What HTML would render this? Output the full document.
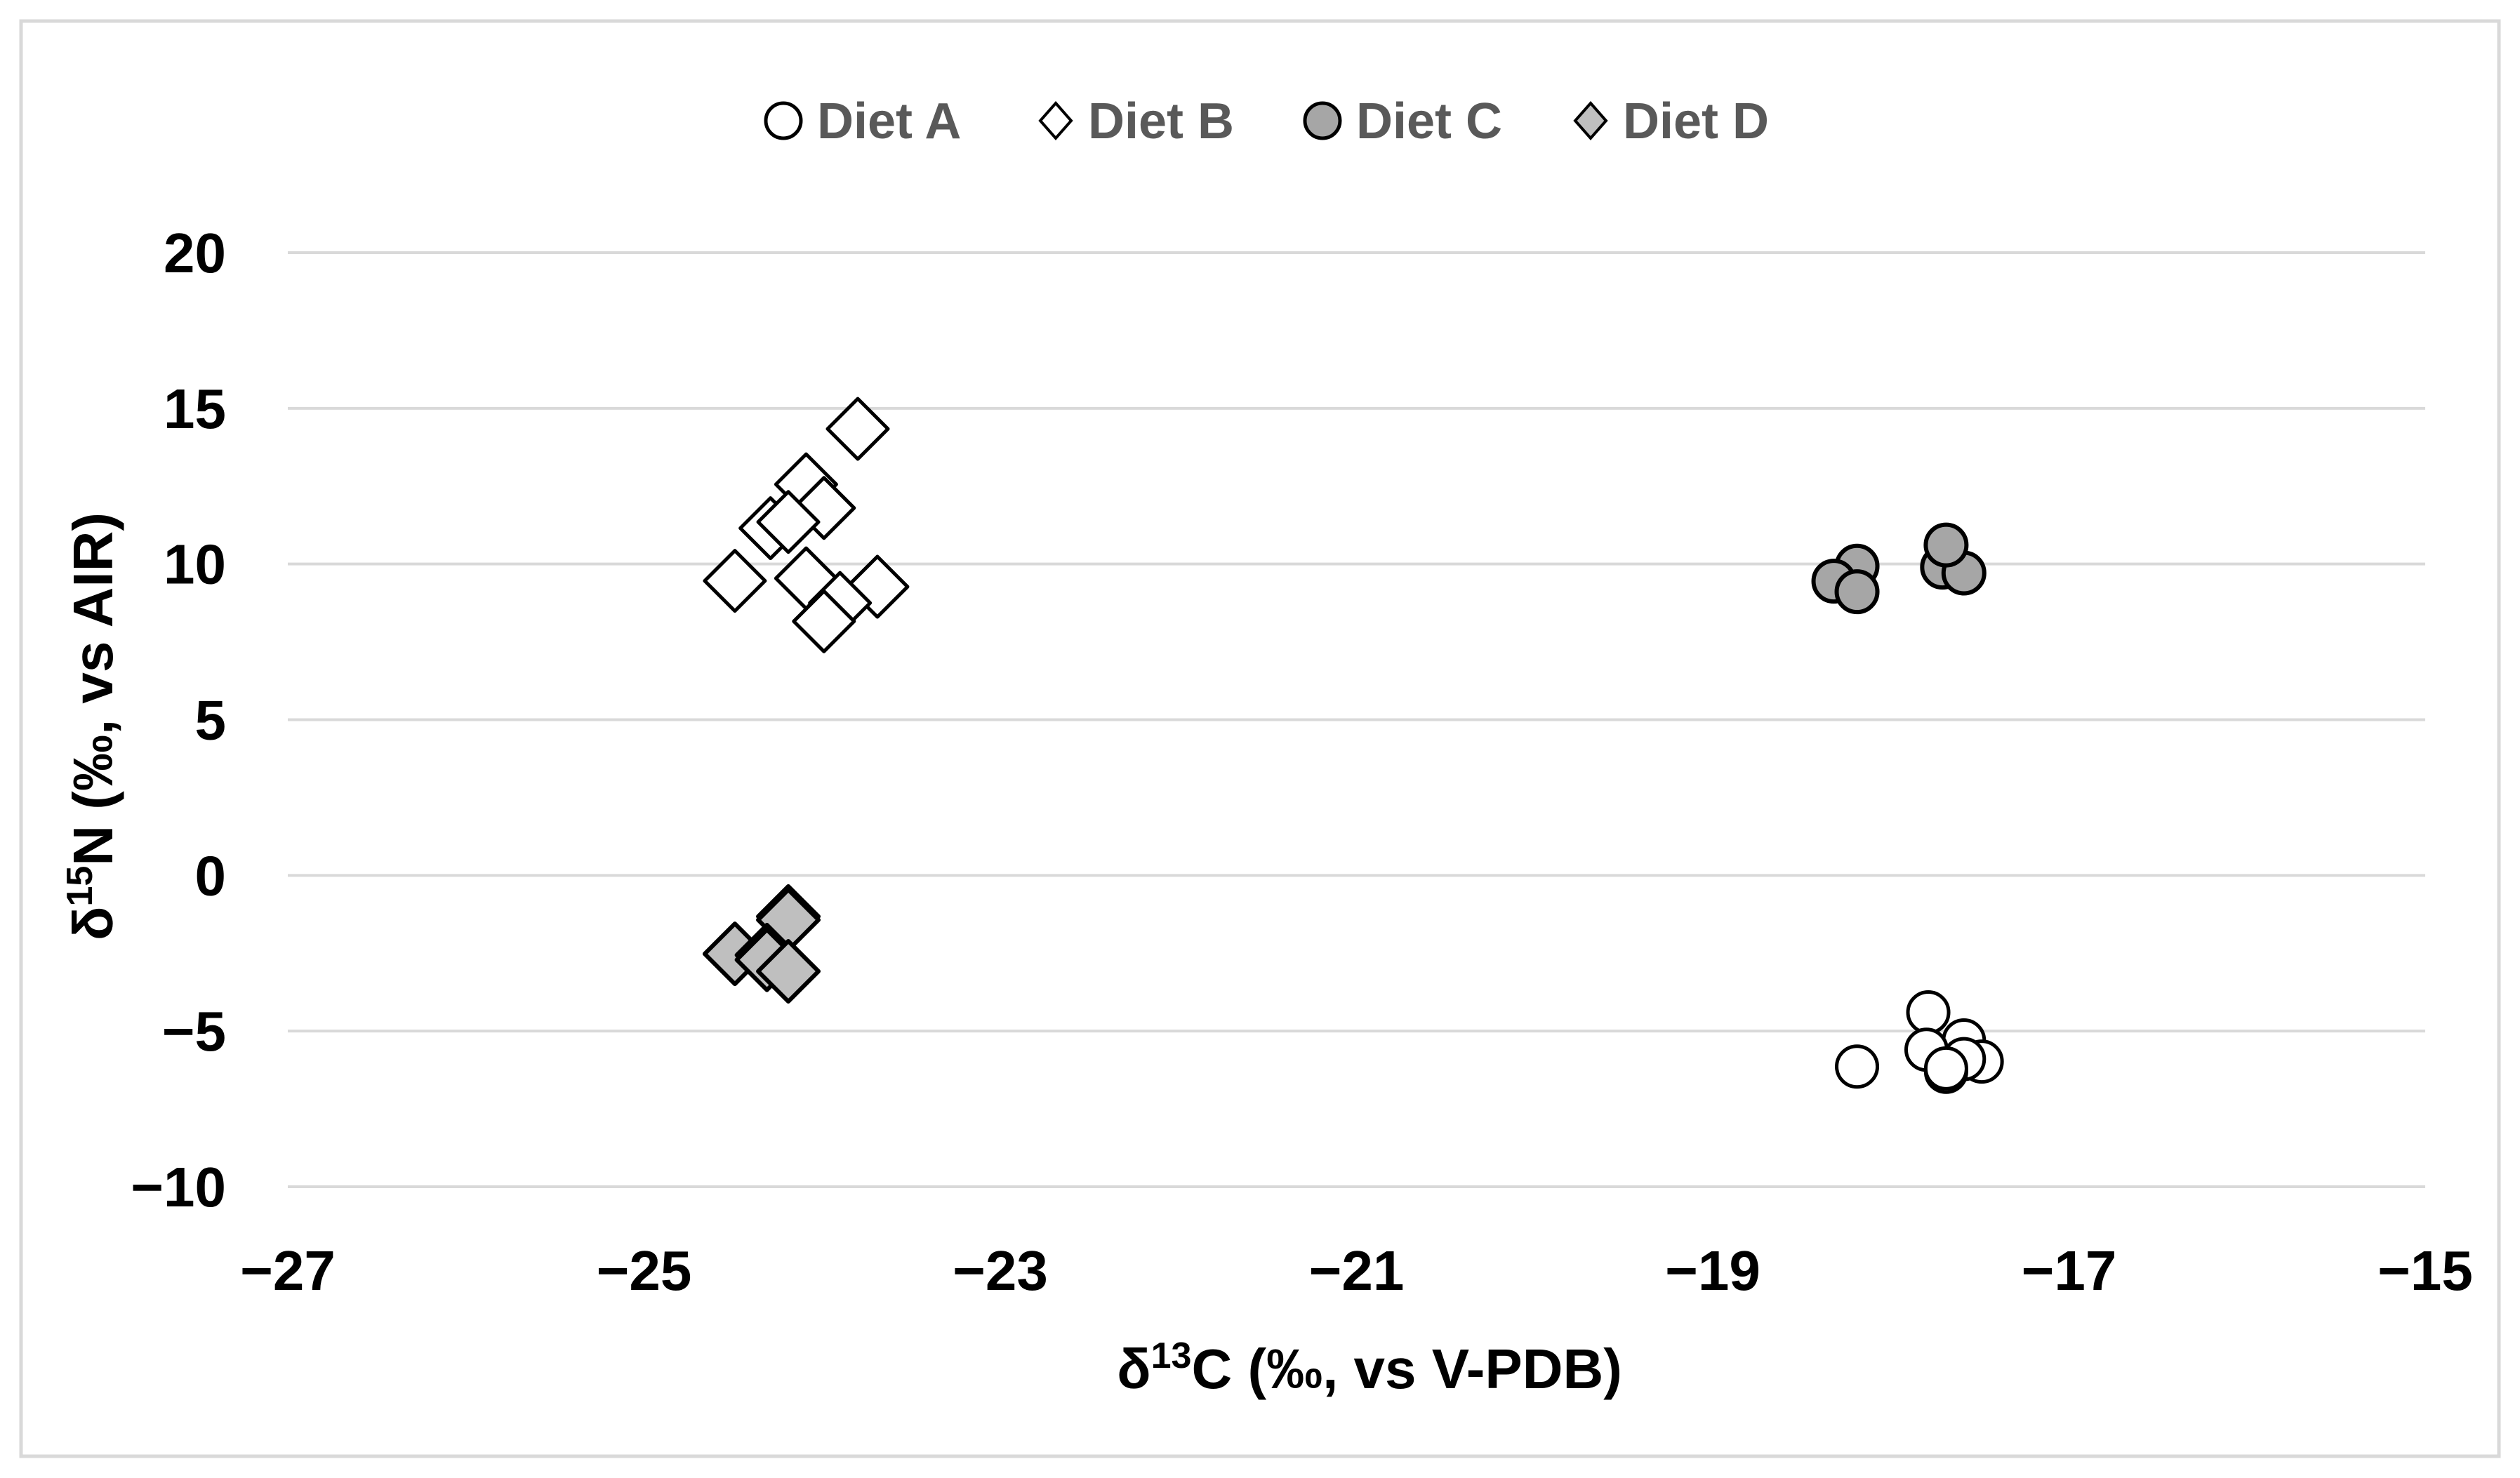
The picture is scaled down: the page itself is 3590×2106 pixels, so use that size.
<!DOCTYPE html>
<html><head><meta charset="utf-8"><style>
html,body{margin:0;padding:0;background:#fff;}
svg{display:block;font-family:"Liberation Sans",sans-serif;}
</style></head><body>
<svg id="chart" width="3590" height="2106" viewBox="0 0 3590 2106">
<rect x="30" y="30" width="3530" height="2045" fill="#fff" stroke="#d9d9d9" stroke-width="5"/>
<g id="grid"></g>
<g id="yticks"></g>
<g id="xticks"></g>
<g id="marks"></g>
<g id="legend">
  <circle cx="1116" cy="172" r="25" fill="#fff" stroke="#000" stroke-width="5"/>
  <text x="1164" y="197" font-size="72" font-weight="bold" fill="#595959">Diet A</text>
  <path d="M1504 147 L1526 172 L1504 197 L1482 172 Z" fill="#fff" stroke="#000" stroke-width="4"/>
  <text x="1550" y="197" font-size="72" font-weight="bold" fill="#595959">Diet B</text>
  <circle cx="1884" cy="172" r="25" fill="#a6a6a6" stroke="#000" stroke-width="5"/>
  <text x="1932" y="197" font-size="72" font-weight="bold" fill="#595959">Diet C</text>
  <path d="M2266 147 L2288 172 L2266 197 L2244 172 Z" fill="#bfbfbf" stroke="#000" stroke-width="4"/>
  <text x="2312" y="197" font-size="72" font-weight="bold" fill="#595959">Diet D</text>
</g>
<text x="1951" y="1978" font-size="80" font-weight="bold" fill="#000" text-anchor="middle">δ<tspan baseline-shift="super" font-size="52">13</tspan>C (‰, vs V-PDB)</text>
<text transform="translate(160,1035) rotate(-90)" font-size="80" font-weight="bold" fill="#000" text-anchor="middle">δ<tspan baseline-shift="super" font-size="52">15</tspan>N (‰, vs AIR)</text>
</svg>
<script>
const xTicks = [-27, -25, -23, -21, -19, -17, -15];
const yTicks = [20, 15, 10, 5, 0, -5, -10];
const dietA_x = [-18.19, -17.79, -17.59, -17.80, -17.49, -17.59, -17.69, -17.69];
const dietA_y = [-6.14, -4.40, -5.30, -5.60, -5.98, -5.90, -6.31, -6.20];
const dietB_x = [-23.80, -24.09, -23.99, -24.29, -24.19, -24.49, -24.09, -23.69, -23.90, -23.99];
const dietB_y = [14.34, 12.56, 11.80, 11.15, 11.35, 9.46, 9.54, 9.27, 8.75, 8.16];
const dietC_x = [-18.19, -18.32, -18.19, -17.71, -17.59, -17.69];
const dietC_y = [9.93, 9.45, 9.11, 9.90, 9.71, 10.61];
const dietD_x = [-24.19, -24.19, -24.49, -24.31, -24.31, -24.19];
const dietD_y = [-1.32, -1.43, -2.52, -2.56, -2.71, -3.08];

const X0 = 410, X1 = 3455, Y0 = 360, Y1 = 1691;
const xMin = -27, xMax = -15, yMin = -10, yMax = 20;
function sx(v){ return X0 + (v - xMin) / (xMax - xMin) * (X1 - X0); }
function sy(v){ return Y1 - (v - yMin) / (yMax - yMin) * (Y1 - Y0); }
const NS = "http://www.w3.org/2000/svg";
function mk(tag, attrs, parent){
  const e = document.createElementNS(NS, tag);
  for (const k in attrs) e.setAttribute(k, attrs[k]);
  parent.appendChild(e);
  return e;
}
const grid = document.getElementById('grid');
const yt = document.getElementById('yticks');
const xt = document.getElementById('xticks');
const marks = document.getElementById('marks');
const fmt = v => (v < 0 ? '\u2212' + Math.abs(v) : '' + v);
yTicks.forEach(v => {
  const l = mk('line', {x1: X0, x2: X1, y1: sy(v), y2: sy(v), stroke: '#d9d9d9', 'stroke-width': 4}, grid);
  
  
  const t = mk('text', {x: 322, y: sy(v) + 28, 'font-size': 80, 'font-weight': 'bold', 'text-anchor': 'end', fill: '#000'}, yt);
  t.textContent = fmt(v);
  
  
});
xTicks.forEach(v => {
  const t = mk('text', {x: sx(v), y: 1838, 'font-size': 80, 'font-weight': 'bold', 'text-anchor': 'middle', fill: '#000'}, xt);
  t.textContent = fmt(v);
  
  
});
function diamond(cx, cy, h){ return `M${cx} ${cy-h} L${cx+h} ${cy} L${cx} ${cy+h} L${cx-h} ${cy} Z`; }
dietB_x.forEach((v, i) => {
  const p = mk('path', {d: diamond(sx(v), sy(dietB_y[i]), 43), fill: '#fff', stroke: '#000', 'stroke-width': 5, 'stroke-linejoin': 'round'}, marks);
  
  
});
dietD_x.forEach((v, i) => {
  const p = mk('path', {d: diamond(sx(v), sy(dietD_y[i]), 43), fill: '#bfbfbf', stroke: '#000', 'stroke-width': 6, 'stroke-linejoin': 'round'}, marks);
  
  
});
dietC_x.forEach((v, i) => {
  const c = mk('circle', {cx: sx(v), cy: sy(dietC_y[i]), r: 29, fill: '#a6a6a6', stroke: '#000', 'stroke-width': 6}, marks);
  
  
});
dietA_x.forEach((v, i) => {
  const c = mk('circle', {cx: sx(v), cy: sy(dietA_y[i]), r: 29, fill: '#fff', stroke: '#000', 'stroke-width': 5}, marks);
  
  
});
</script>
</body></html>
